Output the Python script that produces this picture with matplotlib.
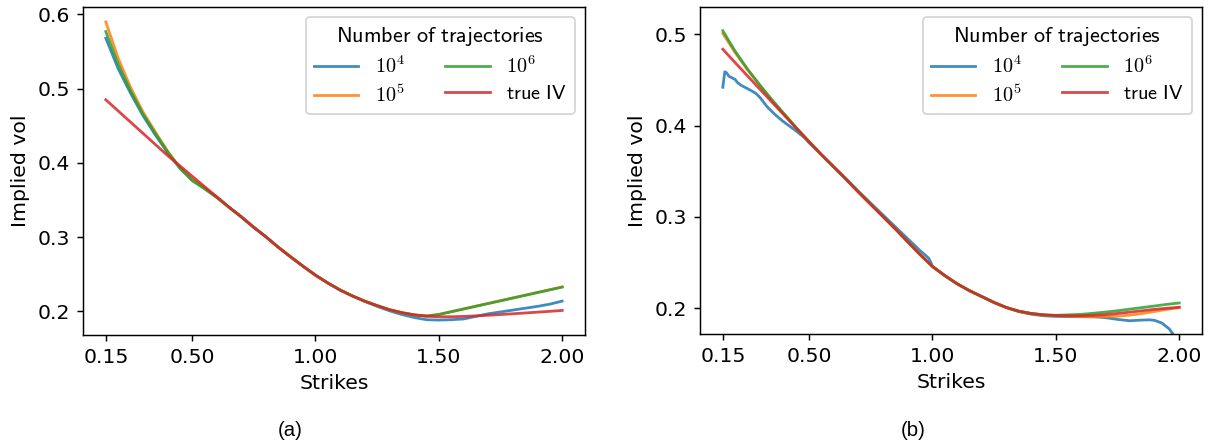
import matplotlib.pyplot as plt
import numpy as np
from matplotlib.ticker import MultipleLocator

plt.rcParams['mathtext.fontset'] = 'cm'
plt.rcParams['font.size'] = 11

# strikes on a 0.05 grid
strikes = np.round(np.arange(0.15, 2.001, 0.05), 2)

# ---- panel (a) ----
a_true = [0.485, 0.470, 0.455, 0.440, 0.425, 0.410, 0.396, 0.382, 0.368, 0.354,
          0.340, 0.327, 0.313, 0.300, 0.286, 0.273, 0.2605, 0.2485, 0.238, 0.2285,
          0.2205, 0.2135, 0.2075, 0.2020, 0.1980, 0.1950, 0.1932, 0.1925, 0.1925, 0.1930,
          0.1937, 0.1945, 0.1955, 0.1965, 0.1976, 0.1987, 0.1998, 0.2010]
a_1e6 = [0.577, 0.533, 0.497, 0.466, 0.440, 0.415, 0.393, 0.376, 0.365, 0.353,
         0.340, 0.327, 0.313, 0.300, 0.286, 0.273, 0.2605, 0.2485, 0.238, 0.2285,
         0.2205, 0.2135, 0.2075, 0.2020, 0.1980, 0.1950, 0.1935, 0.1955, 0.1992, 0.2029,
         0.2066, 0.2103, 0.2140, 0.2177, 0.2214, 0.2251, 0.2288, 0.2325]
a_1e5 = [0.590, 0.541, 0.502, 0.469, 0.442, 0.416, 0.394, 0.378, 0.366, 0.354,
         0.340, 0.327, 0.313, 0.300, 0.286, 0.273, 0.2605, 0.2485, 0.238, 0.2285,
         0.2205, 0.2135, 0.2075, 0.2020, 0.1980, 0.1950, 0.1935, 0.1957, 0.1994, 0.2031,
         0.2068, 0.2105, 0.2142, 0.2179, 0.2216, 0.2253, 0.2290, 0.2327]
a_1e4 = [0.568, 0.527, 0.494, 0.464, 0.438, 0.414, 0.393, 0.377, 0.366, 0.354,
         0.340, 0.327, 0.313, 0.300, 0.286, 0.273, 0.2605, 0.2485, 0.238, 0.2285,
         0.2205, 0.2130, 0.2065, 0.2005, 0.1955, 0.1915, 0.1885, 0.1880, 0.1885, 0.1895,
         0.1930, 0.1965, 0.1990, 0.2015, 0.2040, 0.2065, 0.2095, 0.2136]

# ---- panel (b) ----
b_true = [0.4837, 0.469, 0.4545, 0.440, 0.4255, 0.411, 0.3965, 0.3822, 0.368, 0.3545,
          0.341, 0.327, 0.3135, 0.300, 0.2865, 0.2725, 0.2585, 0.2455, 0.2355, 0.2265,
          0.219, 0.2125, 0.206, 0.2005, 0.1965, 0.1940, 0.1925, 0.1918, 0.1915, 0.1915,
          0.1920, 0.1928, 0.1940, 0.1955, 0.1970, 0.1985, 0.1997, 0.2008]
b_1e6 = [0.504, 0.4815, 0.462, 0.4445, 0.428, 0.4125, 0.397, 0.3822, 0.368, 0.3545,
         0.341, 0.327, 0.3135, 0.300, 0.2865, 0.2725, 0.2585, 0.2455, 0.2355, 0.2265,
         0.219, 0.2125, 0.206, 0.2005, 0.1965, 0.1940, 0.1925, 0.1920, 0.1925, 0.1930,
         0.1942, 0.1955, 0.1970, 0.1988, 0.2005, 0.2022, 0.2040, 0.2055]
b_1e5 = [0.501, 0.480, 0.4612, 0.444, 0.4275, 0.412, 0.3968, 0.3822, 0.368, 0.3545,
         0.341, 0.327, 0.3135, 0.300, 0.2865, 0.2725, 0.2585, 0.2455, 0.2355, 0.2265,
         0.219, 0.2125, 0.206, 0.2005, 0.1965, 0.1940, 0.1922, 0.1914, 0.1910, 0.1905,
         0.1903, 0.1905, 0.1910, 0.1922, 0.1940, 0.1962, 0.1985, 0.2005]

# the 10^4 curve is noisy, so it gets its own strikes
b_1e4_strikes = [0.15, 0.158, 0.165, 0.175, 0.19, 0.20, 0.21, 0.225, 0.25, 0.27,
                 0.285, 0.30, 0.33, 0.36, 0.39, 0.42, 0.45, 0.48, 0.50, 0.55,
                 0.60, 0.65, 0.70, 0.75, 0.80, 0.85, 0.90, 0.95, 0.985, 0.995,
                 1.00, 1.05, 1.10, 1.15, 1.20, 1.25, 1.30, 1.35, 1.40, 1.45,
                 1.50, 1.55, 1.60, 1.65, 1.70, 1.75, 1.80, 1.85, 1.88, 1.90,
                 1.93, 1.96, 1.98, 2.00]
b_1e4 = [0.442, 0.459, 0.458, 0.454, 0.452, 0.4505, 0.447, 0.444, 0.4405, 0.4375,
         0.435, 0.431, 0.4205, 0.4125, 0.4055, 0.3995, 0.3935, 0.387, 0.381, 0.368,
         0.3548, 0.3415, 0.328, 0.3148, 0.3018, 0.2888, 0.2758, 0.2628, 0.2545, 0.249,
         0.2455, 0.2355, 0.2265, 0.219, 0.2125, 0.206, 0.2003, 0.1960, 0.1932, 0.1915,
         0.1908, 0.1905, 0.1905, 0.1905, 0.1895, 0.1875, 0.1860, 0.1868, 0.1870, 0.1865,
         0.1835, 0.1770, 0.1695, 0.1630]

labels = [r'$10^4$', r'$10^5$', r'$10^6$', r'$\mathsf{true\ IV}$']
colors = ['tab:blue', 'tab:orange', 'tab:green', 'tab:red']
xticks = [0.15, 0.5, 1.0, 1.5, 2.0]
legend_title = r'$\mathsf{Number\ of\ trajectories}$'

fig = plt.figure(figsize=(1208 / 133, 446 / 133), dpi=133)
ax1 = fig.add_axes([83 / 1208, 1 - 335 / 446, 502 / 1208, 328 / 446])
ax2 = fig.add_axes([700 / 1208, 1 - 334 / 446, 502 / 1208, 327 / 446])

panels = [
    (ax1, [(strikes, a_1e4), (strikes, a_1e5), (strikes, a_1e6), (strikes, a_true)]),
    (ax2, [(b_1e4_strikes, b_1e4), (strikes, b_1e5), (strikes, b_1e6), (strikes, b_true)]),
]

for ax, series in panels:
    for (k, v), lab, c in zip(series, labels, colors):
        ax.plot(k, v, color=c, label=lab, alpha=0.85)
    ax.set_xticks(xticks)
    ax.set_xticklabels(['%.2f' % t for t in xticks])
    ax.yaxis.set_major_locator(MultipleLocator(0.1))
    ax.set_xlabel('Strikes')
    ax.set_ylabel('Implied vol')
    ax.legend(title=legend_title, ncol=2, loc='upper right',
              fontsize=11, title_fontsize=12, borderaxespad=0.5,
              labelspacing=0.35, handlelength=2.2)

ax2.set_ylim(0.1715, 0.53)

fig.text(290 / 1208, 1 - 431 / 446, '(a)', ha='center', va='center',
         family='Liberation Sans', fontsize=11)
fig.text(913 / 1208, 1 - 431 / 446, '(b)', ha='center', va='center',
         family='Liberation Sans', fontsize=11)

fig.savefig('out.png', dpi=133)
